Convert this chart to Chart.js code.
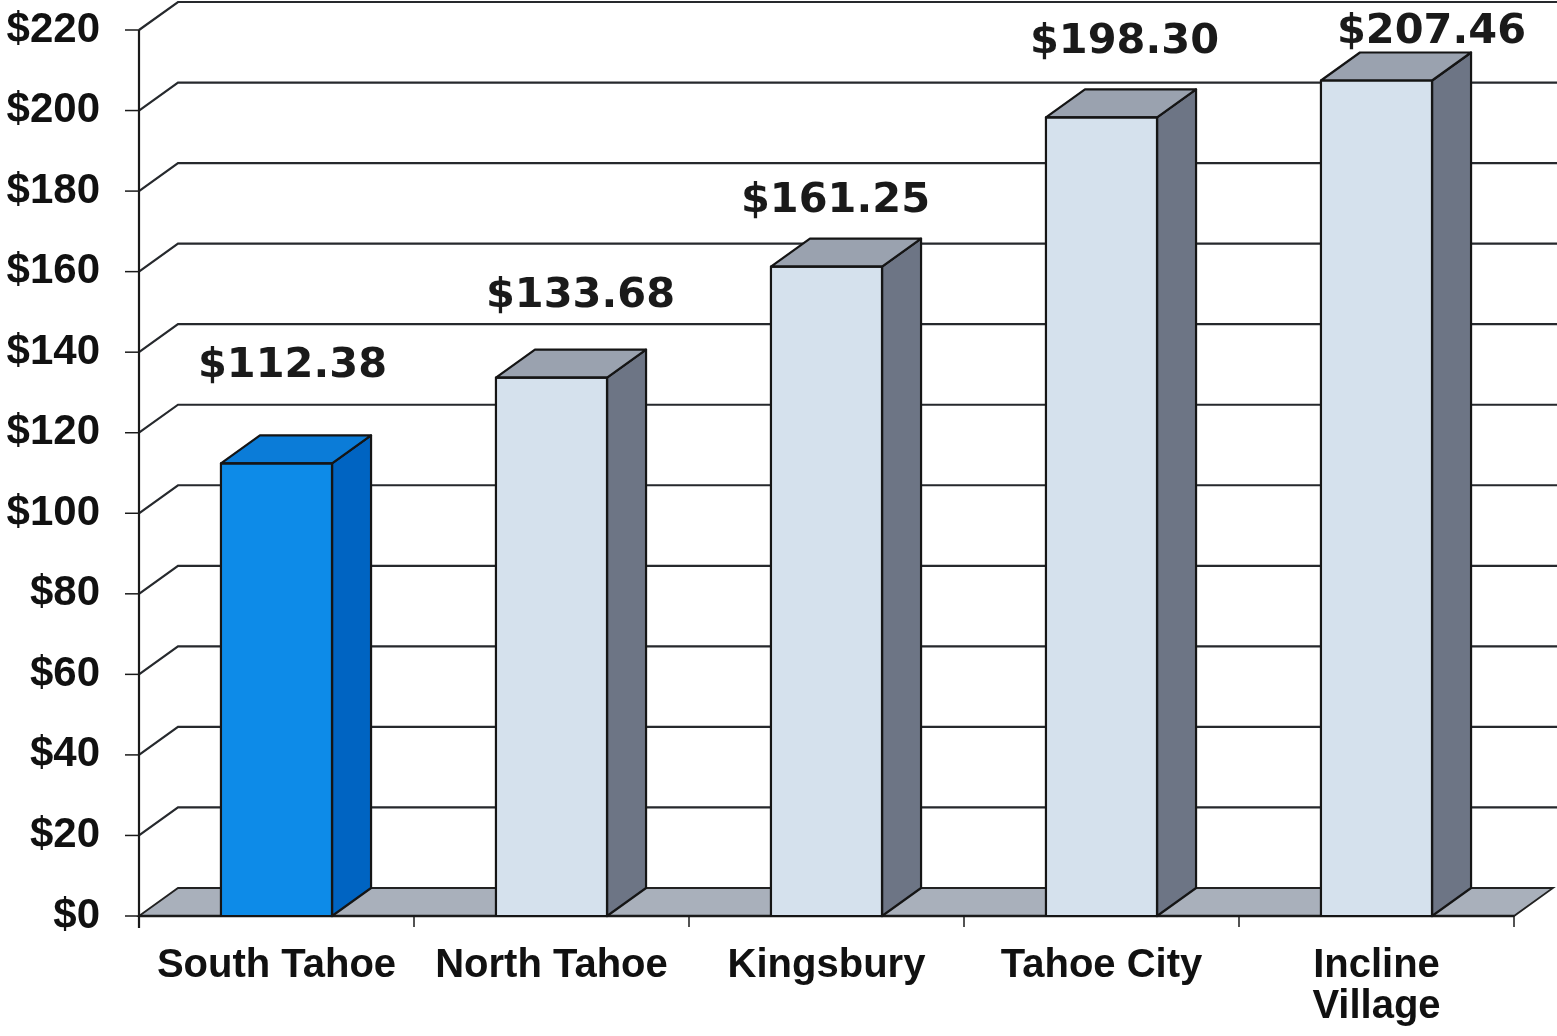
<!DOCTYPE html>
<html>
<head>
<meta charset="utf-8">
<title>Average Daily Room Rate by Area</title>
<script src="https://cdn.jsdelivr.net/npm/chart.js@4.4.1/dist/chart.umd.min.js"></script>
<style>
  html, body { margin: 0; padding: 0; background: #ffffff; }
  #wrap { width: 1557px; height: 1036px; position: relative; }
</style>
</head>
<body>
<div id="wrap"><canvas id="chart" width="1557" height="1036"></canvas></div>
<script>
// Areas along the x axis
const areas = ['South Tahoe', 'North Tahoe', 'Kingsbury', 'Tahoe City', ['Incline', 'Village']];
// Rate per area, in dollars
const rates = [112.38, 133.68, 161.25, 198.30, 207.46];
// Value-axis range and step
const axisMin = 0;
const axisMax = 220;
const axisStep = 20;

// Extrusion of the 3-D boxes (pixels right / up)
const DEPTH_X = 39;
const DEPTH_Y = 28;

const highlight = { front: '#0d8be8', side: '#0064c2', top: '#0b7cd8' };
const plain = { front: '#d5e1ed', side: '#6d7585', top: '#9aa2af' };
const faceColors = rates.map((_, i) => (i === 0 ? highlight : plain));

// Where each value label sits, relative to the top-centre of its box front
const labelShift = [[16, -86], [29, -71], [9, -55], [23, -64], [55, -38]];

function poly(ctx, pts, fill, stroke, lw) {
  ctx.beginPath();
  ctx.moveTo(pts[0][0], pts[0][1]);
  for (let i = 1; i < pts.length; i++) ctx.lineTo(pts[i][0], pts[i][1]);
  ctx.closePath();
  if (fill) { ctx.fillStyle = fill; ctx.fill(); }
  if (stroke) { ctx.strokeStyle = stroke; ctx.lineWidth = lw; ctx.stroke(); }
}

const box3d = {
  id: 'box3d',
  beforeDatasetsDraw(chart) {
    const { ctx, chartArea: a, scales: { y } } = chart;
    const W = chart.width;
    const y0 = y.getPixelForValue(axisMin);
    ctx.save();
    ctx.lineJoin = 'miter';

    // floor
    poly(ctx, [[a.left, y0], [a.left + DEPTH_X, y0 - DEPTH_Y], [a.right + DEPTH_X, y0 - DEPTH_Y], [a.right, y0]],
      '#a9b0bb', '#222', 1.8);

    // wall gridlines: diagonal on the side wall, then flat along the back wall
    ctx.strokeStyle = '#26292d';
    ctx.lineWidth = 2.2;
    y.ticks.forEach(t => {
      if (t.value === axisMin) return;
      const py = y.getPixelForValue(t.value);
      ctx.beginPath();
      ctx.moveTo(a.left, py);
      ctx.lineTo(a.left + DEPTH_X, py - DEPTH_Y);
      ctx.lineTo(W, py - DEPTH_Y);
      ctx.stroke();
    });

    // value axis line and tick marks
    ctx.strokeStyle = '#1a1a1a';
    ctx.lineWidth = 2.2;
    ctx.beginPath();
    ctx.moveTo(a.left, y.getPixelForValue(axisMax));
    ctx.lineTo(a.left, y0 + 12);
    ctx.stroke();
    ctx.lineWidth = 1.5;
    y.ticks.forEach(t => {
      const py = y.getPixelForValue(t.value);
      ctx.beginPath();
      ctx.moveTo(a.left - 14, py);
      ctx.lineTo(a.left, py);
      ctx.stroke();
    });

    // category axis line and dividers
    ctx.lineWidth = 2.4;
    ctx.beginPath();
    ctx.moveTo(a.left, y0);
    ctx.lineTo(a.right, y0);
    ctx.stroke();
    ctx.lineWidth = 1.5;
    const n = areas.length;
    for (let i = 0; i <= n; i++) {
      const px = a.left + (a.right - a.left) * i / n;
      ctx.beginPath();
      ctx.moveTo(px, y0);
      ctx.lineTo(px, y0 + 11);
      ctx.stroke();
    }
    ctx.restore();
  },
  afterDatasetsDraw(chart) {
    const { ctx } = chart;
    const meta = chart.getDatasetMeta(0);
    ctx.save();
    ctx.lineJoin = 'round';
    meta.data.forEach((bar, i) => {
      const p = bar.getProps(['x', 'y', 'base', 'width'], true);
      const l = p.x - p.width / 2, r = p.x + p.width / 2;
      const t = p.y, b = p.base;
      const c = faceColors[i];
      // side face
      poly(ctx, [[r, t], [r + DEPTH_X, t - DEPTH_Y], [r + DEPTH_X, b - DEPTH_Y], [r, b]], c.side, '#151515', 2.2);
      // top face
      poly(ctx, [[l, t], [l + DEPTH_X, t - DEPTH_Y], [r + DEPTH_X, t - DEPTH_Y], [r, t]], c.top, '#151515', 2.2);
      // front outline
      ctx.strokeStyle = '#151515';
      ctx.lineWidth = 2.2;
      ctx.strokeRect(l, t, r - l, b - t);

      // value label
      const s = labelShift[i];
      ctx.fillStyle = '#1a1a1a';
      ctx.font = 'bold 41.5px "DejaVu Sans", Verdana, sans-serif';
      ctx.textAlign = 'center';
      ctx.textBaseline = 'alphabetic';
      ctx.fillText('$' + rates[i].toFixed(2), p.x + s[0], t + s[1]);
    });
    ctx.restore();
  }
};

new Chart(document.getElementById('chart'), {
  type: 'bar',
  data: {
    labels: areas,
    datasets: [{
      data: rates,
      backgroundColor: faceColors.map(c => c.front),
      borderWidth: 0,
      categoryPercentage: 1,
      barPercentage: 0.404
    }]
  },
  options: {
    responsive: false,
    animation: false,
    events: [],
    layout: { padding: { top: 30, right: 43, left: 0, bottom: 0 } },
    plugins: { legend: { display: false }, tooltip: { enabled: false } },
    scales: {
      x: {
        grid: { display: false, drawTicks: false },
        border: { display: false },
        ticks: {
          color: '#111',
          padding: 29,
          maxRotation: 0,
          autoSkip: false,
          font: { family: '"Liberation Sans", Arial, sans-serif', weight: 'bold', size: 40, lineHeight: 1.03 }
        },
        afterFit(scale) { scale.height = 120; }
      },
      y: {
        min: axisMin,
        max: axisMax,
        grid: { display: false, drawTicks: false },
        border: { display: false },
        ticks: {
          stepSize: axisStep,
          color: '#111',
          padding: 39,
          font: { family: '"Liberation Sans", Arial, sans-serif', weight: 'bold', size: 42 },
          callback: v => '$' + v
        },
        afterFit(scale) {
          scale.width = 139;
          scale.paddingTop = 0;
          scale.paddingBottom = 0;
        }
      }
    }
  },
  plugins: [box3d]
});
</script>
</body>
</html>
